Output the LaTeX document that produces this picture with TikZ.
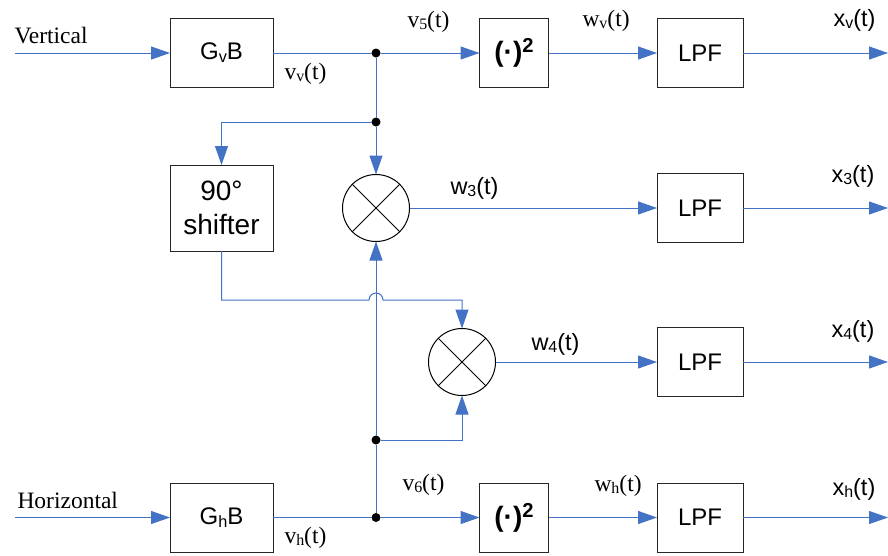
\documentclass[tikz,border=0pt]{standalone}
\usepackage{fontspec}
\setmainfont{Liberation Serif}
\setsansfont{Liberation Sans}
\usetikzlibrary{arrows.meta,positioning,calc}
\definecolor{wireblue}{HTML}{4472C4}
\newcommand{\lowtxt}[1]{\raisebox{-0.22ex}{\scalebox{0.68}{#1}}}
\newcommand{\sqtxt}{(·)\raisebox{0.62ex}{\scalebox{0.72}{2}}}

\begin{document}
\begin{tikzpicture}[x=1pt, y=-1pt, ->, >={Triangle[length=19pt,width=13pt]}, wireblue, line width=1pt]
	\tikzset{
		every node/.style={text=black},
		blockbox/.style={draw=black!85,minimum width=103pt,minimum height=69pt,inner sep=0pt,outer sep=0pt,font=\sffamily\fontsize{24}{28}\selectfont},
		squarebox/.style={blockbox,minimum width=69pt,font=\sffamily\bfseries\fontsize{28}{30}\selectfont},
		lpfbox/.style={blockbox,minimum width=86pt},
		shiftbox/.style={blockbox,minimum height=86pt,align=center,font=\sffamily\fontsize{28}{34}\selectfont},
		mixer/.style={circle,draw=black,minimum size=67pt,inner sep=0pt,outer sep=0pt,
			path picture={\draw[-,black,line width=0.8pt] (path picture bounding box.north west) -- (path picture bounding box.south east)
				(path picture bounding box.north east) -- (path picture bounding box.south west);}},
		junction/.style={circle,fill=black,minimum size=9pt,inner sep=0pt,outer sep=0pt},
		rmlabel/.style={anchor=base west,inner sep=0pt,font=\rmfamily\fontsize{23.5}{26}\selectfont},
		sflabel/.style={anchor=base west,inner sep=0pt,font=\sffamily\fontsize{23.5}{26}\selectfont}
	}
	\useasboundingbox (0,0) rectangle (888,555);

	\node[blockbox]  (GV) at (221.5,53)                     {G\lowtxt{v}B};
	\node[junction]  (D1)[right of=GV,node distance=154.5pt] {};
	\node[squarebox] (S1)[right of=GV,node distance=292.5pt] {\sqtxt};
	\node[lpfbox]    (L1)[right of=S1,node distance=186pt]  {LPF};
	\node[junction]  (D2)[below of=D1,node distance=69pt]   {};
	\node[mixer]     (M1)[below of=D1,node distance=155pt]  {};
	\node[shiftbox]  (SH)[below of=GV,node distance=155pt]  {90°\\shifter};
	\node[lpfbox]    (L2)[right of=M1,node distance=324pt]  {LPF};
	\node[mixer]     (M2) at (462,362)                      {};
	\node[lpfbox]    (L3)[right of=M2,node distance=238pt]  {LPF};
	\node[blockbox]  (GH) at (221.5,517.5)                  {G\lowtxt{h}B};
	\node[junction]  (D4)[right of=GH,node distance=154.5pt] {};
	\node[junction]  (D3)[above of=D4,node distance=77.5pt] {};
	\node[squarebox] (S2)[right of=GH,node distance=292.5pt] {\sqtxt};
	\node[lpfbox]    (L4)[right of=S2,node distance=186pt]  {LPF};

	\coordinate (inV) at (15,53);
	\coordinate (inH) at (15,517.5);
	\coordinate (outV) at (888,53);
	\coordinate (out3) at (888,208);
	\coordinate (out4) at (888,362);
	\coordinate (outH) at (888,517.5);
	\coordinate (hopA) at (369,300);
	\coordinate (hopB) at (383,300);

	\path
	(inV) edge (GV)
	(GV) edge[-] (D1)
	(D1) edge (S1)
	     edge[-] (D2)
	(S1) edge (L1)
	(L1) edge (outV)
	(D2) edge (M1)
	(M1) edge (L2)
	(L2) edge (out3)
	(M2) edge (L3)
	(L3) edge (out4)
	(inH) edge (GH)
	(GH) edge[-] (D4)
	(D4) edge (S2)
	     edge[-] (D3)
	(D3) edge (M1)
	(S2) edge (L4)
	(L4) edge (outH)
	;
	\draw (D2) -| (SH.north);
	\draw (SH.south) |- (hopA) arc[start angle=180,end angle=0,radius=7pt] -- (hopB) -| (M2.north);
	\draw (D3) -| (M2.south);

	\node[rmlabel] (tV)  at (14,43)    {Vertical};
	\node[rmlabel] (tH)  at (17,508)   {Horizontal};
	\node[rmlabel] (v1)  at (284,79)   {v\lowtxt{v}(t)};
	\node[rmlabel] (v5)  at (407,27)   {v\lowtxt{5}(t)};
	\node[rmlabel] (wv)  at (582,26)   {w\lowtxt{v}(t)};
	\node[sflabel] (xv)  at (833,26)   {x\lowtxt{v}(t)};
	\node[sflabel] (w3)  at (450,194)  {w\lowtxt{3}(t)};
	\node[sflabel] (x3)  at (831,182)  {x\lowtxt{3}(t)};
	\node[sflabel] (w4)  at (531,350)  {w\lowtxt{4}(t)};
	\node[sflabel] (x4)  at (831,337)  {x\lowtxt{4}(t)};
	\node[rmlabel] (v6)  at (402,490)  {v\lowtxt{6}(t)};
	\node[rmlabel] (vh)  at (284,543)  {v\lowtxt{h}(t)};
	\node[rmlabel] (wh)  at (594,491)  {w\lowtxt{h}(t)};
	\node[sflabel] (xh)  at (832,495)  {x\lowtxt{h}(t)};
\end{tikzpicture}
\end{document}
